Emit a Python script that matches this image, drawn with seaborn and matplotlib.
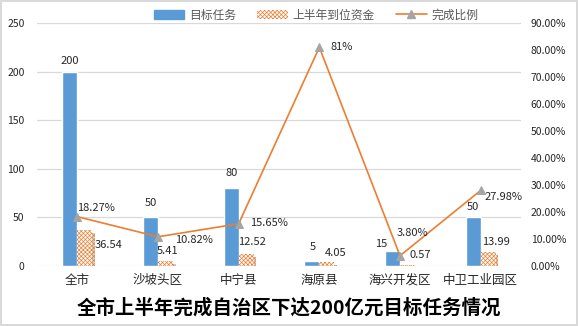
import numpy as np
import pandas as pd
import matplotlib
matplotlib.use("Agg")
import matplotlib.pyplot as plt
import matplotlib.patheffects as pe
from matplotlib.patches import Patch
from matplotlib.lines import Line2D
import seaborn as sns

# ---- data ----
regions = ["全市", "沙坡头区", "中宁县", "海原县", "海兴开发区", "中卫工业园区"]
target = [200, 50, 80, 5, 15, 50]
funds = [36.54, 5.41, 12.52, 4.05, 0.57, 13.99]
ratio = [18.27, 10.82, 15.65, 81, 3.80, 27.98]
ratio_labels = ["18.27%", "10.82%", "15.65%", "81%", "3.80%", "27.98%"]
series_names = ["目标任务", "上半年到位资金", "完成比例"]
left_ticks = [0, 50, 100, 150, 200, 250]
right_ticks = [0, 10, 20, 30, 40, 50, 60, 70, 80, 90]
title = "全市上半年完成自治区下达200亿元目标任务情况"

BLUE = "#5B9BD5"
ORANGE = "#ED7D31"
GRAY = "#A5A5A5"
TXT = "#262626"

sns.set_theme(style="white")
plt.rcParams["font.family"] = ["Noto Sans CJK SC", "DejaVu Sans"]
plt.rcParams["hatch.linewidth"] = 0.5

df = pd.DataFrame({
    "region": regions * 2,
    "series": [series_names[0]] * len(regions) + [series_names[1]] * len(regions),
    "value": target + funds,
})

fig = plt.figure(figsize=(5.78, 3.26), dpi=100)
fig.patch.set_facecolor("white")
fig.patch.set_edgecolor("#D9D9D9")
fig.patch.set_linewidth(1.5)
ax = fig.add_axes([37 / 578, 1 - 266 / 326, (521 - 37) / 578, (266 - 23) / 326])

sns.barplot(data=df, x="region", y="value", hue="series",
            hue_order=series_names[:2], palette=[BLUE, "white"],
            width=0.372, saturation=1, legend=False, ax=ax)

shadow = [pe.SimplePatchShadow(offset=(2, -2), shadow_rgbFace="#7F7F7F", alpha=0.35),
          pe.Normal()]
for p in ax.containers[1]:
    p.set_hatch("xxxxxxxx")
    p.set_edgecolor(ORANGE)
    p.set_linewidth(0)
    p.set_path_effects(shadow)

ax.set_ylim(0, 250)
ax.set_yticks(left_ticks)
ax.set_xlim(-0.5, len(regions) - 0.5)
ax.set_xlabel("")
ax.set_ylabel("")
ax.yaxis.grid(True, color="#D9D9D9", linewidth=0.9)
ax.set_axisbelow(True)
for s in ax.spines.values():
    s.set_visible(False)
ax.tick_params(axis="y", length=0, pad=9, labelsize=7.5, labelcolor=TXT)
ax.tick_params(axis="x", length=0, pad=6, labelsize=9, labelcolor=TXT)

# bar labels
blue_off = [(0, 10.5), (0, 14.7), (0, 15), (1, 14), (-11, 7.4), (0, 10)]
hatch_off = [(23.5, -14.5), (2, 10), (5.5, 12), (9, 9), (13, 10), (7.5, 10.7)]
for p, v, off in zip(ax.containers[0], target, blue_off):
    ax.annotate(f"{v}", (p.get_x() + p.get_width() / 2, p.get_height()),
                xytext=off, textcoords="offset pixels", ha="center", va="center",
                fontsize=8, color=TXT)
for p, v, off in zip(ax.containers[1], funds, hatch_off):
    ax.annotate(f"{v:.2f}", (p.get_x() + p.get_width() / 2, p.get_height()),
                xytext=off, textcoords="offset pixels", ha="center", va="center",
                fontsize=8, color=TXT)

# line on secondary axis
ax2 = ax.twinx()
xpos = np.arange(len(regions))
sns.lineplot(x=xpos, y=ratio, ax=ax2, color=ORANGE, linewidth=1.2,
             marker="^", markersize=6, markerfacecolor=GRAY,
             markeredgecolor=GRAY, sort=False)
ax2.set_ylim(0, 90)
ax2.set_yticks(right_ticks)
ax2.set_yticklabels([f"{t:.2f}%" for t in right_ticks])
ax2.set_xlim(-0.5, len(regions) - 0.5)
for s in ax2.spines.values():
    s.set_visible(False)
ax2.tick_params(axis="y", length=0, pad=7, labelsize=7.5, labelcolor=TXT)
ax2.grid(False)

pct_off = [(19, 8.7), (35.7, -3), (30, 0.7), (22.6, 0), (12.3, 22.7), (23, -6.5)]
for x, v, lab, off in zip(xpos, ratio, ratio_labels, pct_off):
    ax2.annotate(lab, (x, v), xytext=off, textcoords="offset pixels",
                 ha="center", va="center", fontsize=8, color=TXT)

# legend
handles = [
    Patch(facecolor=BLUE, edgecolor=BLUE),
    Patch(facecolor="white", edgecolor=ORANGE, hatch="xxxxxxxx", linewidth=0),
    Line2D([0], [0], color=ORANGE, lw=1.2, marker="^", markersize=6,
           markerfacecolor=GRAY, markeredgecolor=GRAY),
]
leg = fig.legend(handles, series_names, loc="center", bbox_to_anchor=(316 / 578, 1 - 15 / 326),
                 ncol=3, frameon=False, fontsize=8.5, handlelength=2.6,
                 handleheight=0.8, columnspacing=1.8, handletextpad=0.4)
for t in leg.get_texts():
    t.set_color("#595959")

fig.text(0.5, 1 - 308 / 326, title, ha="center", va="center",
         fontsize=14, fontweight="bold", color="black")

fig.savefig("out.png", dpi=100, facecolor=fig.get_facecolor(),
            edgecolor=fig.get_edgecolor())
